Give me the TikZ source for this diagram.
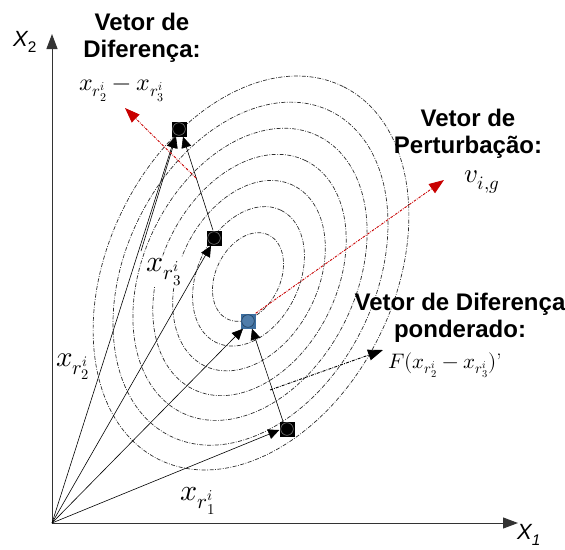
\documentclass[tikz,border=0pt]{standalone}
\usepackage{fontspec}
\usepackage{unicode-math}
\setmathfont{Latin Modern Math}
\setsansfont{Liberation Sans}
\usetikzlibrary{arrows.meta,calc}
\definecolor{redarr}{RGB}{200,0,0}
\definecolor{sqblue}{RGB}{60,110,160}
\definecolor{ellcol}{RGB}{45,45,45}
\begin{document}
\begin{tikzpicture}[x=1pt,y=-1pt,
  ell/.style={draw=ellcol,line width=0.7pt,dash pattern=on 4pt off 1.5pt on 0.8pt off 1.5pt},
  axis/.style={draw=black!80,line width=1pt,-{Triangle[length=15pt,width=11pt]}},
  vec/.style={draw=black,line width=0.6pt,-{Triangle[length=11pt,width=10pt]}},
  redvec/.style={draw=redarr,line width=0.9pt,dash pattern=on 2.5pt off 1.2pt on 0.8pt off 1.2pt,-{Triangle[length=15pt,width=11pt]}},
  blkvec/.style={draw=black,line width=0.9pt,dash pattern=on 3pt off 1.2pt on 0.8pt off 1.2pt,-{Triangle[length=15pt,width=11pt]}},
  pt/.style={rectangle,fill=black,minimum size=15pt,inner sep=0pt},
  ptb/.style={rectangle,fill=sqblue,minimum size=15pt,inner sep=0pt},
  ttl/.style={font=\sffamily\bfseries\fontsize{24}{27}\selectfont,align=center,inner sep=0pt},
  lbl/.style={fill=white,inner sep=1pt},
  axl/.style={font=\sffamily\fontsize{22}{26}\selectfont,inner sep=0pt}
]
\useasboundingbox (0,0) rectangle (565,549);
% ellipses
\foreach \k in {0,...,6}{
  \pgfmathsetmacro\s{0.225+\k*0.775/6}
  \pgfmathsetmacro\cx{248+\k*0.5}
  \pgfmathsetmacro\cy{277-\k*0.667}
  \pgfmathsetmacro\ra{\s*208}
  \pgfmathsetmacro\rb{\s*143}
  \draw[ell,rotate around={63.7:(\cx,\cy)}] (\cx,\cy) ellipse [x radius=\ra pt, y radius=\rb pt];
}
% axes
\coordinate (O) at (52,523);
\coordinate (xe) at (518,523);
\coordinate (ye) at (52,34);
\draw[axis] (O) -- (xe);
\draw[axis] (O) -- (ye);
\node[axl] (X1) at (529,535) {\itshape X\textsubscript{1}};
\node[axl] (X2) at (25,42) {\itshape X\textsubscript{\upshape 2}};
% points
\node[pt] (sq1) at (179,129) {};
\node[pt] (sq2) at (214,238) {};
\node[ptb] (bl) at (248,321) {};
\node[pt] (sq3) at (287,429) {};
\coordinate (c2) at (141,251);
% vectors
\draw[vec] (O) -- ($(sq1.south)+(-4,0)$);
\draw[vec] (c2) -- ($(sq1.south)+(-3,0)$);
\draw[vec] ($(sq2.north)+(-1,0)$) -- ($(sq1.south)+(4,0)$);
\draw[vec] (O) -- ($(sq2.south)+(-3,0)$);
\draw[vec] (O) -- ($(bl.south)+(-5,0)$);
\draw[vec] ($(sq3.north)+(-4,0)$) -- ($(bl.south)+(4,0)$);
\draw[vec] (O) -- ($(sq3.west)+(0,1)$);
\coordinate (r2s) at (196,178);
\coordinate (r2e) at (125,108);
\coordinate (r1e) at (444,180);
\coordinate (bks) at (270,390);
\coordinate (bke) at (383,350);
\draw[redvec] (bl.north east) -- (r1e);
\draw[redvec] (r2s) -- (r2e);
\draw[blkvec] (bks) -- (bke);
% circles on points
\foreach \p in {sq1,sq2,sq3}{
  \draw[draw=black!55,fill=black,line width=0.6pt] (\p.center) circle[radius=6.3pt];
}
\draw[draw=sqblue!60!black,fill=sqblue!90!white,line width=0.6pt] (bl.center) circle[radius=6.3pt];
% labels
\node[lbl,font=\fontsize{24}{28}\selectfont] (m1) at (122,91) {$x_{r_2^i} - x_{r_3^i}$};
\node[lbl,font=\fontsize{27}{30}\selectfont] (m2) at (482,182) {$v_{i,g}$};
\node[lbl,font=\fontsize{21}{24}\selectfont] (m3) at (445,365) {$F(x_{r_2^i} - x_{r_3^i})\mbox{'}$};
\node[lbl,font=\fontsize{30}{34}\selectfont] (m4) at (164,272) {$x_{r_3^i}$};
\node[lbl,font=\fontsize{29}{32}\selectfont] (m5) at (73,367) {$x_{r_2^i}$};
\node[lbl,font=\fontsize{30}{34}\selectfont] (m6) at (198,501) {$x_{r_1^i}$};
\node[ttl] (t1) at (142,38) {Vetor de\\Diferença:};
\node[ttl] (t2) at (468,134) {Vetor de\\Perturbação:};
\node[ttl] (t3) at (460,318) {Vetor de Diferença\\ponderado:};
\end{tikzpicture}
\end{document}
